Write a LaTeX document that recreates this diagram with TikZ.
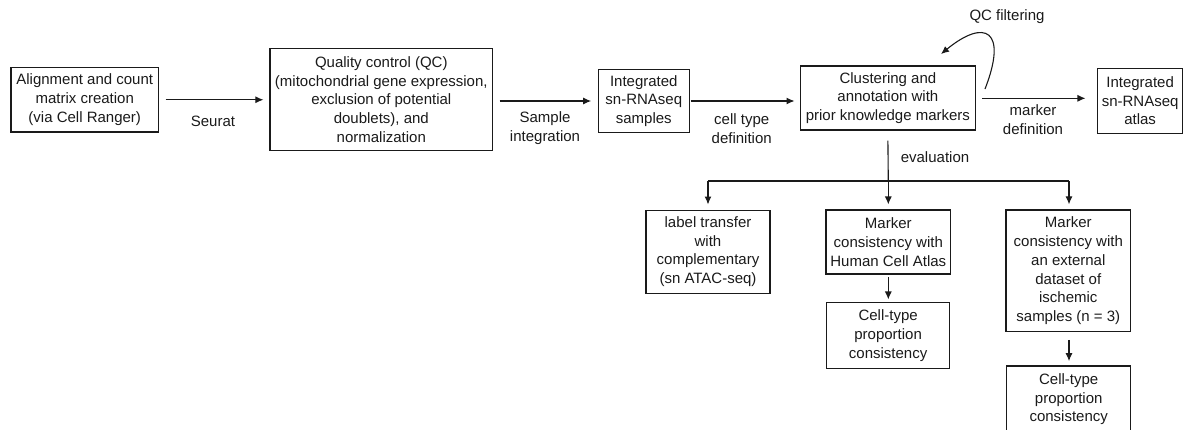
\documentclass[tikz,border=0pt]{standalone}
\usepackage{fontspec}
\setmainfont{Liberation Sans}
\usetikzlibrary{arrows.meta}
\definecolor{ink}{HTML}{1A1A1A}
\begin{document}
\begin{tikzpicture}[x=1pt,y=-1pt,
  txt/.style={text=ink, font=\fontsize{15}{18.8}\selectfont},
  box/.style={txt, draw=ink, line width=1.1pt, inner sep=0pt, align=center},
  lbl/.style={txt, inner sep=0pt, align=center},
  arr/.style={draw=ink, line width=1.1pt, -{Latex[length=8pt,width=7pt]}},
  link/.style={draw=ink, line width=1.1pt}]
\useasboundingbox (0,0) rectangle (1184,429);
\clip (0,0) rectangle (1184,429);

% main pipeline
\node[box, minimum width=147.5pt, minimum height=64.5pt] (align) at (84.75,99.75)
  {Alignment and count\\matrix creation\\(via Cell Ranger)};
\node[box, minimum width=222.7pt, minimum height=102.4pt] (qc) at (381.3,99.5)
  {Quality control (QC)\\(mitochondrial gene expression,\\exclusion of potential\\doublets), and\\normalization};
\node[box, minimum width=91pt, minimum height=63.4pt] (integ) at (643.8,101)
  {Integrated\\sn-RNAseq\\samples};
\node[box, minimum width=174.3pt, minimum height=64pt] (clust) at (887.9,98)
  {Clustering and\\annotation with\\prior knowledge markers};
\node[box, minimum width=84.8pt, minimum height=65pt] (atlas) at (1140.1,100.8)
  {Integrated\\sn-RNAseq\\atlas};

% evaluation boxes
\node[box, minimum width=124pt, minimum height=83.3pt] (transfer) at (708,251.7)
  {label transfer\\with\\complementary\\(sn ATAC-seq)};
\node[box, minimum width=124.7pt, minimum height=64pt] (hca) at (888.3,242)
  {Marker\\consistency with\\Human Cell Atlas};
\node[box, minimum width=122.8pt, minimum height=65.6pt] (propa) at (888.1,335.5)
  {Cell-type\\proportion\\consistency};
\node[box, minimum width=124.7pt, minimum height=121.7pt] (ext) at (1068.3,270.8)
  {Marker\\consistency with\\an external\\dataset of\\ischemic\\samples (n = 3)};
\node[box, minimum width=124pt, minimum height=66.6pt] (propb) at (1068.7,399.3)
  {Cell-type\\proportion\\consistency};

% pipeline arrows
\draw[arr] ([xshift=6.5pt]align.east) -- ([xshift=-6pt]qc.west |- align.east);
\draw[arr] ([xshift=6.3pt]qc.east |- integ.east) -- ([xshift=-6.6pt]integ.west);
\draw[arr] ([xshift=0.8pt]integ.east) -- ([xshift=-5.7pt]clust.west |- integ.east);
\draw[arr] ([xshift=6.7pt]clust.east |- 0,98.3) -- ([xshift=-11.7pt]atlas.west |- 0,98.3);

% arrow labels
\node[lbl] (lseurat) at (213,121.7) {Seurat};
\node[lbl] (lsample) at (545,128.5) {Sample\\integration};
\node[lbl] (lcell) at (741.7,128.5) {cell type\\definition};
\node[lbl] (lmarker) at (1033,120) {marker\\definition};

% QC filtering loop
\coordinate (loopstart) at (985,89);
\coordinate (loopend) at (941,54);
\draw[arr] (loopstart) .. controls (1008,30) and (985,18) .. (loopend);
\node[lbl, anchor=west] (lqc) at (969.3,16.7) {QC filtering};

% evaluation fan-out
\coordinate (split) at (888.3,181);
\coordinate (splitl) at (708,181);
\coordinate (splitr) at (1069,181);
\draw[link] ([yshift=-10pt]clust.south) -- (split);
\draw[link] (splitl) -- (splitr);
\draw[arr] (split) -- ([yshift=5pt]hca.north);
\draw[arr] (splitl) -- ([yshift=5pt]transfer.north);
\draw[arr] (splitr) -- ([yshift=5pt]ext.north -| splitr);
\node[lbl] (leval) at (935,157.3) {evaluation};

% consistency follow-ups
\draw[arr] ([yshift=-2.7pt]hca.south) -- ([yshift=2.7pt]propa.north -| hca.south);
\draw[arr] ([yshift=-7.6pt]ext.south -| splitr) -- ([yshift=4.3pt]propb.north -| splitr);
\end{tikzpicture}
\end{document}
